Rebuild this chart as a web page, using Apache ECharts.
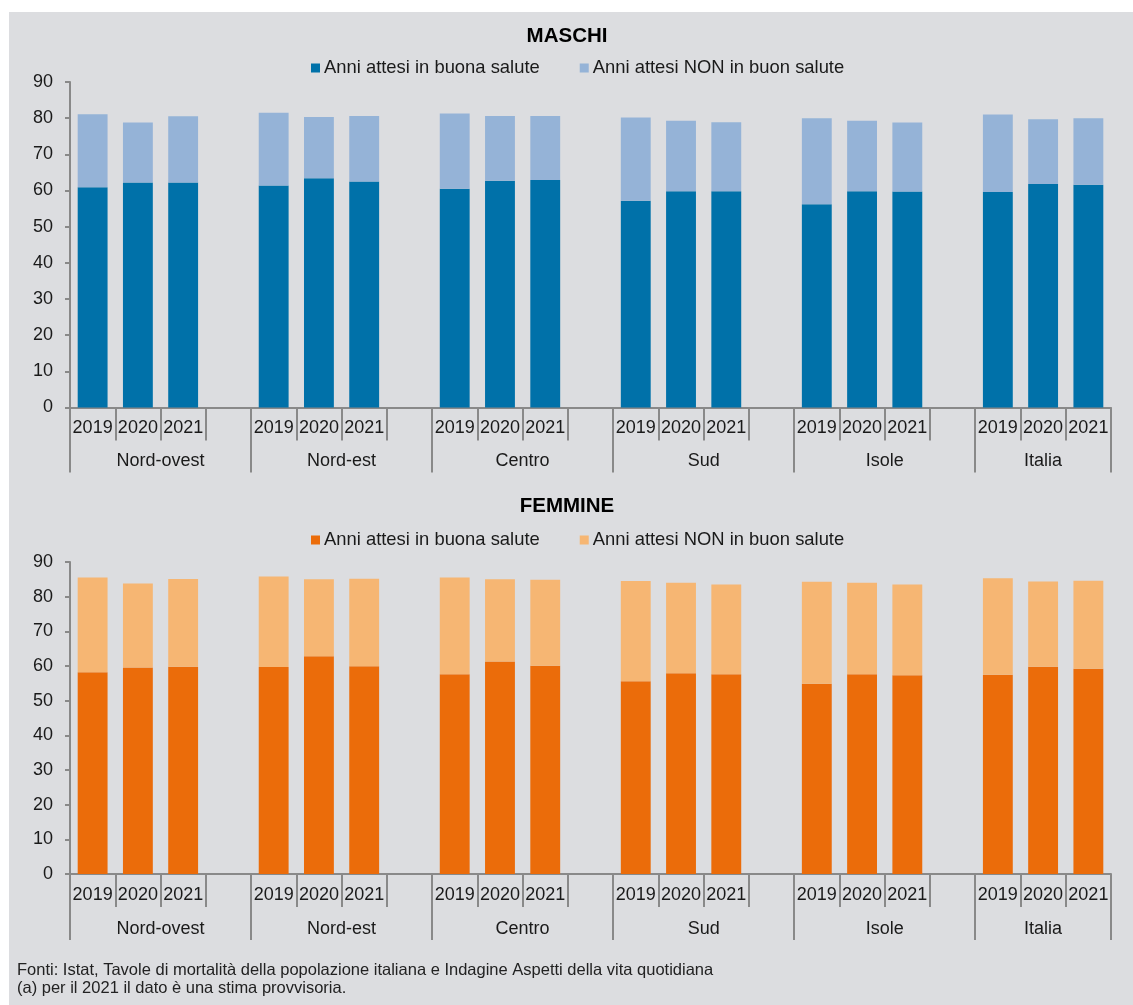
<!DOCTYPE html>
<html>
<head>
<meta charset="utf-8">
<script src="https://cdn.jsdelivr.net/npm/echarts@6/dist/echarts.min.js"></script>
<style>
  html, body { margin: 0; padding: 0; background: #ffffff; }
  #bg { position: absolute; left: 9px; top: 12px; width: 1124px; height: 993px; background: #dcdde0; }
  #chart { position: absolute; left: 0; top: 0; width: 1133px; height: 1005px; }
</style>
</head>
<body>
<div id="bg"></div>
<div id="chart"></div>
<script>
const regions = ['Nord-ovest', 'Nord-est', 'Centro', 'Sud', 'Isole', 'Italia'];
const years = ['2019', '2020', '2021'];
const seriesNames = ['Anni attesi in buona salute', 'Anni attesi NON in buon salute'];

// MASCHI (values per region, years 2019, 2020, 2021)
const maschiBuona = [60.9, 62.2, 62.2, 61.4, 63.4, 62.5, 60.5, 62.7, 62.9, 57.2, 59.8, 59.8, 56.2, 59.8, 59.7, 59.6, 61.8, 61.6];
const maschiNon   = [20.2, 16.6, 18.3, 20.1, 16.9, 18.1, 20.8, 17.9, 17.7, 23.0, 19.5, 19.1, 23.8, 19.5, 19.1, 21.4, 17.9, 18.4];

// FEMMINE
const femmineBuona = [58.2, 59.6, 59.8, 59.7, 62.8, 59.9, 57.6, 61.3, 60.1, 55.6, 57.9, 57.6, 54.9, 57.6, 57.3, 57.5, 59.8, 59.2];
const femmineNon   = [27.3, 24.2, 25.3, 26.1, 22.2, 25.3, 27.9, 23.7, 24.8, 28.9, 26.1, 25.9, 29.4, 26.4, 26.2, 27.8, 24.6, 25.4];

const FONT = 'Liberation Sans, Arial, Helvetica, sans-serif';
const AXIS = '#898989';
const TXT = '#1a1a1a';

// slot categories: 3 years per region + an empty spacer between regions
const slotLabels = [];
const groupBounds = [];
regions.forEach((r, i) => {
  groupBounds.push(slotLabels.length);
  years.forEach(y => slotLabels.push(y));
  if (i < regions.length - 1) slotLabels.push('');
});
groupBounds.push(slotLabels.length);
const groupCenters = regions.map((r, i) => (groupBounds[i] + groupBounds[i + 1]) / 2);

function toSlots(vals) {
  const out = [];
  regions.forEach((r, i) => {
    for (let j = 0; j < years.length; j++) out.push(vals[i * years.length + j]);
    if (i < regions.length - 1) out.push('-');
  });
  return out;
}

const grids = [
  { left: 70, right: 22, top: 82, height: 325.5 },
  { left: 70, right: 22, top: 562, height: 312 }
];

function catAxis(gi) {
  return {
    type: 'category', gridIndex: gi, data: slotLabels, position: 'bottom',
    axisLine: { lineStyle: { color: AXIS, width: 2 } },
    axisTick: { show: true, interval: 0, length: 33, alignWithLabel: false, lineStyle: { color: AXIS, width: 2 } },
    axisLabel: { interval: 0, margin: 12, color: TXT, fontSize: 18, fontFamily: FONT },
    splitLine: { show: false }
  };
}
function groupAxis(gi, len) {
  return {
    type: 'value', gridIndex: gi, min: 0, max: slotLabels.length, position: 'bottom',
    axisLine: { show: false },
    axisTick: { show: true, customValues: groupBounds, length: len, lineStyle: { color: AXIS, width: 2 } },
    axisLabel: {
      customValues: groupCenters, margin: len - 20, color: TXT, fontSize: 18, fontFamily: FONT,
      formatter: v => regions[groupCenters.indexOf(v)]
    },
    splitLine: { show: false }
  };
}
function valAxis(gi) {
  return {
    type: 'value', gridIndex: gi, min: 0, max: 90, interval: 10,
    axisLine: { show: true, lineStyle: { color: AXIS, width: 2 } },
    axisTick: { show: true, length: 5, lineStyle: { color: AXIS, width: 2 } },
    axisLabel: { margin: 17, color: TXT, fontSize: 18, fontFamily: FONT },
    splitLine: { show: false }
  };
}
function barSeries(prefix, name, vals, color, xi, yi) {
  return {
    type: 'bar', name: prefix + '|' + name, stack: prefix, xAxisIndex: xi, yAxisIndex: yi,
    data: toSlots(vals), barWidth: '66%',
    itemStyle: { color: color },
    emphasis: { disabled: true }
  };
}
function legend(prefix, top) {
  return {
    top: top, left: 311, padding: 0, itemWidth: 9, itemHeight: 9, itemGap: 40, icon: 'rect',
    data: seriesNames.map(n => prefix + '|' + n),
    formatter: n => n.split('|')[1],
    textStyle: { color: TXT, fontSize: 18.4, fontFamily: FONT, padding: [0, 0, 0, -1] },
    selectedMode: false
  };
}

const option = {
  animation: false,
  backgroundColor: 'transparent',
  title: [
    { text: 'MASCHI', left: 567, textAlign: 'center', top: 26, padding: 0,
      textStyle: { fontSize: 20.5, fontWeight: 'bold', color: '#000', fontFamily: FONT } },
    { text: 'FEMMINE', left: 567, textAlign: 'center', top: 496, padding: 0,
      textStyle: { fontSize: 20.5, fontWeight: 'bold', color: '#000', fontFamily: FONT } },
    { text: 'Fonti: Istat, Tavole di mortalità della popolazione italiana e Indagine Aspetti della vita quotidiana\n(a) per il 2021 il dato è una stima provvisoria.',
      left: 17, top: 961, padding: 0,
      textStyle: { fontSize: 16.5, fontWeight: 'normal', color: '#222', lineHeight: 18,
        fontFamily: 'Liberation Sans Narrow, Arial Narrow, Liberation Sans, sans-serif' } }
  ],
  legend: [legend('M', 59), legend('F', 531)],
  grid: grids,
  xAxis: [catAxis(0), groupAxis(0, 65), catAxis(1), groupAxis(1, 66)],
  yAxis: [valAxis(0), valAxis(1)],
  series: [
    barSeries('M', seriesNames[0], maschiBuona, '#0071a9', 0, 0),
    barSeries('M', seriesNames[1], maschiNon, '#95b3d7', 0, 0),
    barSeries('F', seriesNames[0], femmineBuona, '#eb6c0a', 2, 1),
    barSeries('F', seriesNames[1], femmineNon, '#f6b673', 2, 1)
  ]
};

const chart = echarts.init(document.getElementById('chart'), null, { renderer: 'canvas' });
chart.setOption(option);
</script>
</body>
</html>
